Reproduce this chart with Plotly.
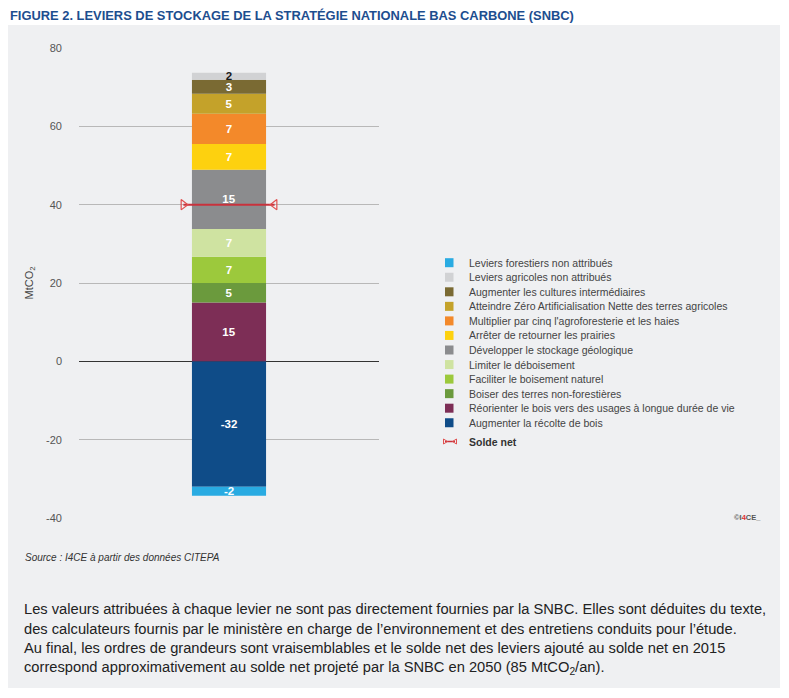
import plotly.graph_objects as go

# ---------------- data ----------------
levers = [
    "Augmenter la récolte de bois",
    "Réorienter le bois vers des usages à longue durée de vie",
    "Boiser des terres non-forestières",
    "Faciliter le boisement naturel",
    "Limiter le déboisement",
    "Développer le stockage géologique",
    "Arrêter de retourner les prairies",
    "Multiplier par cinq l'agroforesterie et les haies",
    "Atteindre Zéro Artificialisation Nette des terres agricoles",
    "Augmenter les cultures intermédiaires",
    "Leviers agricoles non attribués",
    "Leviers forestiers non attribués",
]
values = [-32.0, 15.0, 5.0, 6.7, 7.1, 15.1, 6.6, 7.7, 5.1, 3.6, 1.8, -2.3]
value_labels = ["-32", "15", "5", "7", "7", "15", "7", "7", "5", "3", "2", "-2"]
colors = ["#0f4c88", "#7d2e56", "#6b9a3d", "#9cc93c", "#cfe3a1", "#8b8c8e",
          "#fdd10f", "#f3892a", "#c4a22a", "#7a6a33", "#d1d2d4", "#29abe2"]
label_colors = ["white"] * 10 + ["#1a1a1a", "white"]
solde_net = 40
solde_label = "Solde net"
y_ticks = [-40, -20, 0, 20, 40, 60, 80]
y_tick_labels = ["-40", "-20", "0", "20", "40", "60", "80"]

title = "FIGURE 2. LEVIERS DE STOCKAGE DE LA STRATÉGIE NATIONALE BAS CARBONE (SNBC)"
source = "Source : I4CE à partir des données CITEPA"
paragraph = [
    "Les valeurs attribuées à chaque levier ne sont pas directement fournies par la SNBC. Elles sont déduites du texte,",
    "des calculateurs fournis par le ministère en charge de l’environnement et des entretiens conduits pour l’étude.",
    "Au final, les ordres de grandeurs sont vraisemblables et le solde net des leviers ajouté au solde net en 2015",
    "correspond approximativement au solde net projeté par la SNBC en 2050 (85 MtCO<sub>2</sub>/an).",
]

# ---------------- layout geometry ----------------
# the page body has an 8px margin: the figure is drawn 8px smaller and offset
OFF = 8
FW, FH = 789 - OFF, 698 - OFF
L, T, W, H = 79 - OFF, 48 - OFF, 300, 470
FONT = "Liberation Sans, Arial, sans-serif"


def px_x(px):
    """screen pixel (reference) -> paper x"""
    return (px - OFF - L) / W


def px_y(py):
    """screen pixel (reference) -> paper y"""
    return (T + H - (py - OFF)) / H


fig = go.Figure()

for name, v, lab, c, lc in zip(levers, values, value_labels, colors, label_colors):
    fig.add_trace(go.Bar(
        x=[0], y=[v], name=name, width=0.247,
        marker=dict(color=c, line=dict(width=0)),
        text=[lab], textposition="inside", insidetextanchor="middle",
        textangle=0, constraintext="none",
        textfont=dict(family=FONT, size=11.5, color=lc, weight="bold"),
        hoverinfo="name+y", showlegend=False,
    ))

half = 0.152
fig.add_trace(go.Scatter(
    x=[-half, half], y=[solde_net, solde_net], mode="lines+markers",
    line=dict(color="#c8323c", width=2),
    marker=dict(symbol=["triangle-right-open", "triangle-left-open"], size=9,
                color="#e05050", line=dict(color="#e05050", width=1.2)),
    name=solde_label, showlegend=False,
))

shapes = [dict(type="rect", xref="paper", yref="paper",
               x0=px_x(6), x1=px_x(780), y0=px_y(688), y1=px_y(25),
               fillcolor="#eff0f2", line=dict(width=0), layer="below")]
annotations = []

# custom legend (top = last trace)
leg_items = list(zip(levers, colors))[::-1]
y0, dy = 262.7, 14.55
for i, (name, c) in enumerate(leg_items):
    yc = y0 + i * dy
    shapes.append(dict(type="rect", xref="paper", yref="paper",
                       x0=px_x(445), x1=px_x(453.5), y0=px_y(yc + 4.5), y1=px_y(yc - 4.5),
                       fillcolor=c, line=dict(width=0)))
    annotations.append(dict(xref="paper", yref="paper", x=px_x(466.5), y=px_y(yc),
                            text=name, showarrow=False, xanchor="left", yanchor="middle",
                            font=dict(family=FONT, size=10.5, color="#444444")))
ys = y0 + len(leg_items) * dy + 4.2
shapes.append(dict(type="line", xref="paper", yref="paper",
                   x0=px_x(445), x1=px_x(455), y0=px_y(ys), y1=px_y(ys),
                   line=dict(color="#c8323c", width=1.5)))
for xa, xb in [(443.5, 447.5), (456.5, 452.5)]:
    shapes.append(dict(type="path", xref="paper", yref="paper",
                       path=f"M {px_x(xa)},{px_y(ys-2.5)} L {px_x(xb)},{px_y(ys)} L {px_x(xa)},{px_y(ys+2.5)} Z",
                       line=dict(color="#e05050", width=1)))
annotations.append(dict(xref="paper", yref="paper", x=px_x(466.5), y=px_y(ys),
                        text="<b>" + solde_label + "</b>", showarrow=False,
                        xanchor="left", yanchor="middle",
                        font=dict(family=FONT, size=10.5, color="#333333")))

# title
annotations.append(dict(xref="paper", yref="paper", x=px_x(8), y=px_y(16),
                        text="<b>" + title + "</b>", showarrow=False,
                        xanchor="left", yanchor="middle",
                        font=dict(family=FONT, size=12.9, color="#1d4e8f")))
# source
annotations.append(dict(xref="paper", yref="paper", x=px_x(23), y=px_y(557),
                        text="<i>" + source + "</i>", showarrow=False,
                        xanchor="left", yanchor="middle",
                        font=dict(family=FONT, size=10, color="#333333")))
# logo
annotations.append(dict(xref="paper", yref="paper", x=px_x(763), y=px_y(517),
                        text="<b>©I<span style='color:#e03030'>4</span>CE_</b>",
                        showarrow=False, xanchor="right", yanchor="middle",
                        font=dict(family=FONT, size=7.5, color="#555555")))
# paragraph
for i, line in enumerate(paragraph):
    annotations.append(dict(xref="paper", yref="paper", x=px_x(22), y=px_y(609 + i * 19.5),
                            text=line, showarrow=False, xanchor="left", yanchor="middle",
                            font=dict(family=FONT, size=14.7, color="#222222")))

fig.update_layout(
    width=FW, height=FH,
    margin=dict(l=L, r=FW - L - W, t=T, b=FH - T - H, pad=0),
    paper_bgcolor="white", plot_bgcolor="rgba(0,0,0,0)",
    barmode="relative", showlegend=False,
    shapes=shapes, annotations=annotations,
    xaxis=dict(range=[-0.5, 0.5], showticklabels=False, showgrid=False,
               zeroline=False, showline=False, fixedrange=True),
    yaxis=dict(range=[-40, 80], tickvals=y_ticks, ticktext=y_tick_labels,
               showgrid=True, gridcolor="#b8b8b8", gridwidth=1, zeroline=True,
               zerolinecolor="#333333", zerolinewidth=1, showline=False,
               ticks="", ticklabelstandoff=16,
               tickfont=dict(family=FONT, size=11, color="#555555"),
               title=dict(text="MtCO<sub>2</sub>", standoff=10,
                          font=dict(family=FONT, size=11, color="#444444"))),
)

fig.write_html("out.html")
